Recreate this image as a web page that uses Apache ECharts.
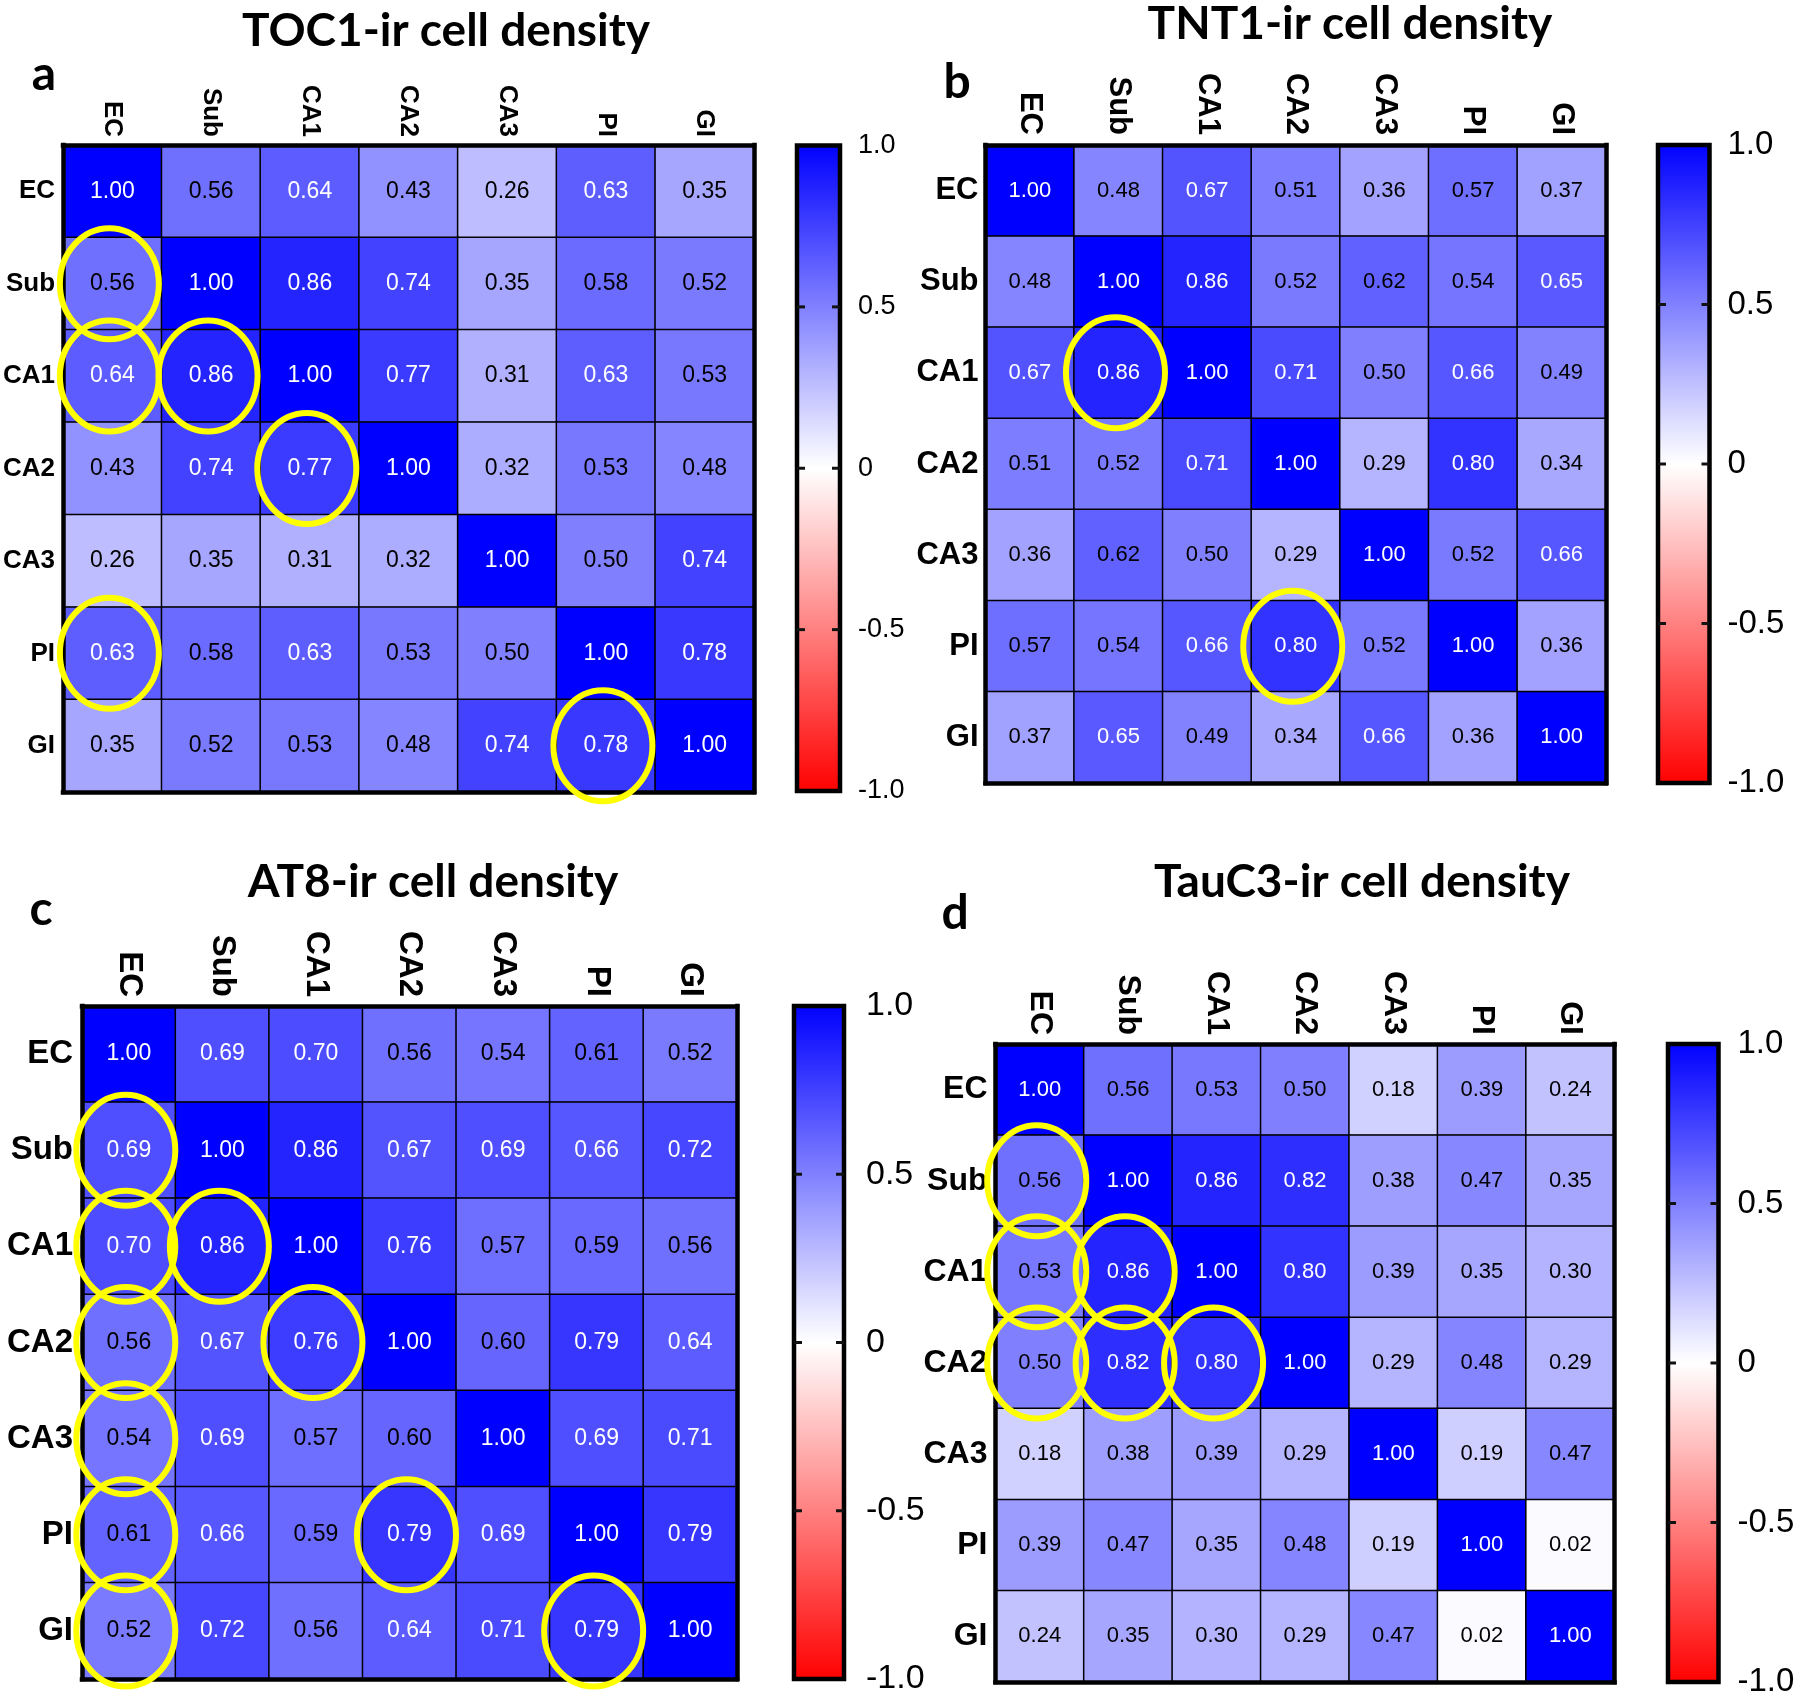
<!DOCTYPE html>
<html>
<head>
<meta charset="utf-8">
<script src="https://cdn.jsdelivr.net/npm/echarts@6/dist/echarts.min.js"></script>
<style>
html,body{margin:0;padding:0;background:#fff;}
#chart{width:1800px;height:1700px;}
</style>
</head>
<body>
<div id="chart"></div>
<script>
// ---------- DATA ----------
const regions = ['EC', 'Sub', 'CA1', 'CA2', 'CA3', 'PI', 'GI'];

const toc1Values = [
  [1.00, 0.56, 0.64, 0.43, 0.26, 0.63, 0.35],
  [0.56, 1.00, 0.86, 0.74, 0.35, 0.58, 0.52],
  [0.64, 0.86, 1.00, 0.77, 0.31, 0.63, 0.53],
  [0.43, 0.74, 0.77, 1.00, 0.32, 0.53, 0.48],
  [0.26, 0.35, 0.31, 0.32, 1.00, 0.50, 0.74],
  [0.63, 0.58, 0.63, 0.53, 0.50, 1.00, 0.78],
  [0.35, 0.52, 0.53, 0.48, 0.74, 0.78, 1.00]
];
const tnt1Values = [
  [1.00, 0.48, 0.67, 0.51, 0.36, 0.57, 0.37],
  [0.48, 1.00, 0.86, 0.52, 0.62, 0.54, 0.65],
  [0.67, 0.86, 1.00, 0.71, 0.50, 0.66, 0.49],
  [0.51, 0.52, 0.71, 1.00, 0.29, 0.80, 0.34],
  [0.36, 0.62, 0.50, 0.29, 1.00, 0.52, 0.66],
  [0.57, 0.54, 0.66, 0.80, 0.52, 1.00, 0.36],
  [0.37, 0.65, 0.49, 0.34, 0.66, 0.36, 1.00]
];
const at8Values = [
  [1.00, 0.69, 0.70, 0.56, 0.54, 0.61, 0.52],
  [0.69, 1.00, 0.86, 0.67, 0.69, 0.66, 0.72],
  [0.70, 0.86, 1.00, 0.76, 0.57, 0.59, 0.56],
  [0.56, 0.67, 0.76, 1.00, 0.60, 0.79, 0.64],
  [0.54, 0.69, 0.57, 0.60, 1.00, 0.69, 0.71],
  [0.61, 0.66, 0.59, 0.79, 0.69, 1.00, 0.79],
  [0.52, 0.72, 0.56, 0.64, 0.71, 0.79, 1.00]
];
const tauc3Values = [
  [1.00, 0.56, 0.53, 0.50, 0.18, 0.39, 0.24],
  [0.56, 1.00, 0.86, 0.82, 0.38, 0.47, 0.35],
  [0.53, 0.86, 1.00, 0.80, 0.39, 0.35, 0.30],
  [0.50, 0.82, 0.80, 1.00, 0.29, 0.48, 0.29],
  [0.18, 0.38, 0.39, 0.29, 1.00, 0.19, 0.47],
  [0.39, 0.47, 0.35, 0.48, 0.19, 1.00, 0.02],
  [0.24, 0.35, 0.30, 0.29, 0.47, 0.02, 1.00]
];

// highlighted cells [column, row]
const toc1Circles = [[0, 1], [0, 2], [1, 2], [2, 3], [0, 5], [5, 6]];
const tnt1Circles = [[1, 2], [3, 5]];
const at8Circles = [[0, 1], [0, 2], [1, 2], [0, 3], [2, 3], [0, 4], [0, 5], [3, 5], [0, 6], [5, 6]];
const tauc3Circles = [[0, 1], [0, 2], [1, 2], [0, 3], [1, 3], [2, 3]];

const colorbarRange = [-1, 1];
const colorbarInnerTicks = [-0.5, 0, 0.5];
const titles = ['TOC1-ir cell density', 'TNT1-ir cell density', 'AT8-ir cell density', 'TauC3-ir cell density'];
const panelLetters = ['a', 'b', 'c', 'd'];

// ---------- LAYOUT ----------
const panels = [
  { values: toc1Values, circles: toc1Circles,
    grid: {left: 61.5, top: 145, width: 692.5, height: 647},
    cbar: {left: 797, top: 145.5, width: 43, height: 645.5},
    labelSize: 26, valueSize: 23, cbarLabelSize: 27, xMargin: 8, yMargin: 8, cbarMargin: 18,
    titleXY: [446, 31], letterXY: [44, 75] },
  { values: tnt1Values, circles: tnt1Circles,
    grid: {left: 985.5, top: 145, width: 620.5, height: 638},
    cbar: {left: 1658, top: 145, width: 51.5, height: 638},
    labelSize: 31, valueSize: 22, cbarLabelSize: 33, xMargin: 10, yMargin: 7, cbarMargin: 18,
    titleXY: [1350, 24], letterXY: [957, 83] },
  { values: at8Values, circles: at8Circles,
    grid: {left: 82, top: 1006, width: 655, height: 673},
    cbar: {left: 794, top: 1006, width: 50, height: 673},
    labelSize: 33, valueSize: 23, cbarLabelSize: 34, xMargin: 9, yMargin: 9, cbarMargin: 22,
    titleXY: [433, 882], letterXY: [41, 910] },
  { values: tauc3Values, circles: tauc3Circles,
    grid: {left: 995.5, top: 1044, width: 619, height: 638},
    cbar: {left: 1668, top: 1044, width: 50.5, height: 638},
    labelSize: 32, valueSize: 22, cbarLabelSize: 33, xMargin: 9, yMargin: 8, cbarMargin: 19,
    titleXY: [1362, 882], letterXY: [955, 914] }
];

const FRAME = 4.5;
const grids = [], xAxes = [], yAxes = [], series = [], graphics = [];
const heatmapSeriesIdx = [];

panels.forEach((p, i) => {
  const gHeat = grids.length;
  grids.push(Object.assign({containLabel: false}, p.grid));
  const gBar = grids.length;
  grids.push(Object.assign({containLabel: false}, p.cbar));

  const lblFont = {fontFamily: 'Liberation Sans', fontWeight: 'bold', color: '#000', fontSize: p.labelSize};
  const frameLine = {show: true, lineStyle: {color: '#000', width: FRAME, cap: 'square'}};

  // heatmap axes
  const xTop = xAxes.length;
  xAxes.push({gridIndex: gHeat, type: 'category', data: regions, position: 'top', z: 10,
    axisLine: frameLine, axisTick: {show: false}, splitLine: {show: false},
    axisLabel: Object.assign({rotate: 90, margin: p.xMargin, interval: 0}, lblFont)});
  xAxes.push({gridIndex: gHeat, type: 'category', data: regions, position: 'bottom', z: 10,
    axisLine: frameLine, axisTick: {show: false}, axisLabel: {show: false}, splitLine: {show: false}});
  const yLeft = yAxes.length;
  yAxes.push({gridIndex: gHeat, type: 'category', data: regions, inverse: true, position: 'left', z: 10,
    axisLine: frameLine, axisTick: {show: false}, splitLine: {show: false},
    axisLabel: Object.assign({margin: p.yMargin, interval: 0}, lblFont)});
  yAxes.push({gridIndex: gHeat, type: 'category', data: regions, inverse: true, position: 'right', z: 10,
    axisLine: frameLine, axisTick: {show: false}, axisLabel: {show: false}, splitLine: {show: false}});

  // heatmap series
  const data = [];
  p.values.forEach((row, r) => row.forEach((v, c) => {
    data.push({value: [c, r, v], label: {color: v >= 0.625 ? '#fff' : '#000'}});
  }));
  heatmapSeriesIdx.push(series.length);
  series.push({type: 'heatmap', xAxisIndex: xTop, yAxisIndex: yLeft, data: data, z: 2,
    itemStyle: {borderColor: '#000', borderWidth: 1.5},
    label: {show: true, fontFamily: 'Liberation Sans', fontSize: p.valueSize,
      formatter: (q) => q.value[2].toFixed(2)},
    emphasis: {disabled: true}});

  // highlight ellipses
  series.push({type: 'custom', xAxisIndex: xTop, yAxisIndex: yLeft, z: 20, silent: true,
    data: p.circles,
    renderItem: (params, api) => {
      const c = api.coord([api.value(0), api.value(1)]);
      return {type: 'ellipse', shape: {cx: c[0] - 3, cy: c[1], rx: 49.5, ry: 55.5},
        style: {fill: 'none', stroke: '#ffff00', lineWidth: 6}};
    }});

  // colorbar axes
  const xBar = xAxes.length;
  xAxes.push({gridIndex: gBar, type: 'value', min: 0, max: 1, show: false});
  const yBar = yAxes.length;
  yAxes.push({gridIndex: gBar, type: 'value', min: -1, max: 1, interval: 0.5, position: 'right', z: 10,
    axisLine: {show: false}, splitLine: {show: false}, axisTick: {show: false},
    axisLabel: {show: true, margin: p.cbarMargin, fontFamily: 'Liberation Sans', fontSize: p.cbarLabelSize, color: '#000',
      formatter: (v) => v === 0 ? '0' : v.toFixed(1)}});

  series.push({type: 'custom', xAxisIndex: xBar, yAxisIndex: yBar, z: 2, silent: true, clip: false,
    data: [colorbarRange],
    renderItem: (params, api) => {
      const tl = api.coord([0, api.value(1)]);
      const br = api.coord([1, api.value(0)]);
      const children = [{type: 'rect', shape: {x: tl[0], y: tl[1], width: br[0] - tl[0], height: br[1] - tl[1]},
        style: {
          fill: new echarts.graphic.LinearGradient(0, 0, 0, 1, [
            {offset: 0, color: '#0000ff'}, {offset: 0.5, color: '#ffffff'}, {offset: 1, color: '#ff0000'}]),
          stroke: '#000', lineWidth: FRAME}}];
      colorbarInnerTicks.forEach((t) => {
        const y = api.coord([0, t])[1];
        children.push({type: 'line', shape: {x1: tl[0], y1: y, x2: tl[0] + 8, y2: y},
          style: {stroke: '#111', lineWidth: 3}});
        children.push({type: 'line', shape: {x1: br[0] - 8, y1: y, x2: br[0], y2: y},
          style: {stroke: '#111', lineWidth: 3}});
      });
      return {type: 'group', children: children};
    }});

  graphics.push({type: 'text', x: p.titleXY[0], y: p.titleXY[1], z: 30,
    style: {text: titles[i], fill: '#000', fontFamily: 'Lato', fontWeight: 'bold', fontSize: 46,
      align: 'center', verticalAlign: 'middle'}});
  graphics.push({type: 'text', x: p.letterXY[0], y: p.letterXY[1], z: 30,
    style: {text: panelLetters[i], fill: '#000', fontFamily: 'Lato', fontWeight: 'bold', fontSize: 48,
      align: 'center', verticalAlign: 'middle'}});
});

const chart = echarts.init(document.getElementById('chart'), null, {renderer: 'canvas'});
chart.setOption({
  backgroundColor: '#fff',
  animation: false,
  grid: grids,
  xAxis: xAxes,
  yAxis: yAxes,
  visualMap: {type: 'continuous', min: -1, max: 1, show: false, seriesIndex: heatmapSeriesIdx,
    inRange: {color: ['#ff0000', '#ffffff', '#0000ff']}},
  series: series,
  graphic: graphics
});
</script>
</body>
</html>
